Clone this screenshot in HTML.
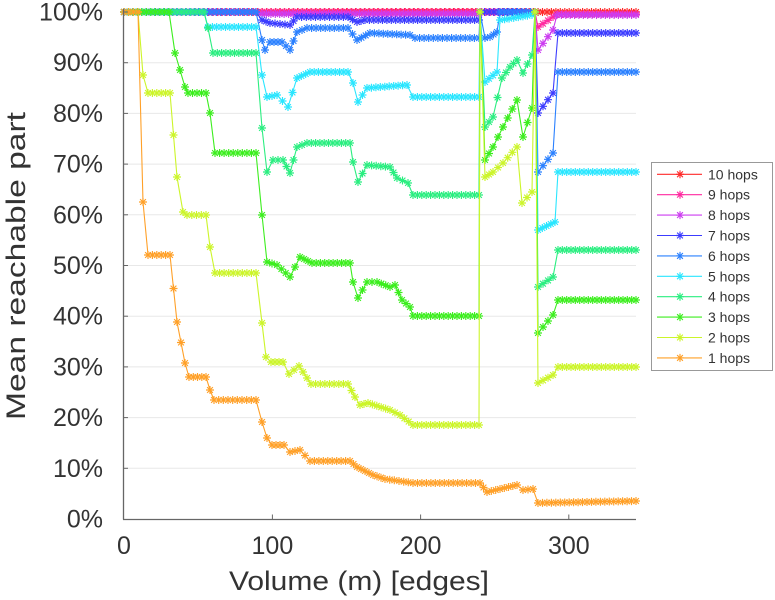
<!DOCTYPE html>
<html><head><meta charset="utf-8">
<style>
html,body{margin:0;padding:0;background:#fff;}
svg{display:block;}
text{font-family:"Liberation Sans",Arial,sans-serif;fill:#333;}
</style></head>
<body>
<svg id="c" width="775" height="600" viewBox="0 0 775 600" xmlns="http://www.w3.org/2000/svg">
<rect x="0" y="0" width="775" height="600" fill="#fff"/>
<g id="grid" stroke="#e8e8e8" stroke-width="1"></g>
<g id="series" fill="none" stroke-linejoin="round"></g>
<g id="axes" stroke="#666" stroke-width="1.3" fill="none">
<line x1="123.5" y1="9" x2="123.5" y2="519.5"/>
<line x1="123" y1="519.5" x2="636" y2="519.5"/>
</g>
<g id="ticks" stroke="#666" stroke-width="1"></g>
<g id="ylabels" font-size="25" text-anchor="end"></g>
<g font-size="25" text-anchor="middle">
<text x="124" y="554">0</text>
<text x="272.4" y="554">100</text>
<text x="420.6" y="554">200</text>
<text x="568.8" y="554">300</text>
</g>
<text x="359" y="590" font-size="27" text-anchor="middle" textLength="260" lengthAdjust="spacingAndGlyphs">Volume (m) [edges]</text>
<text transform="translate(25,266) rotate(-90)" x="0" y="0" font-size="27" text-anchor="middle" textLength="308" lengthAdjust="spacingAndGlyphs">Mean reachable part</text>
<rect x="651.5" y="162.5" width="121" height="208" fill="#fff" stroke="#999" stroke-width="1"/>
<g id="legend" fill="none"></g>
<g id="legtext" font-size="14"></g>
</svg>
<script>
(function(){
var NS="http://www.w3.org/2000/svg";
function el(tag,attrs,parent,txt){var e=document.createElementNS(NS,tag);for(var k in attrs)e.setAttribute(k,attrs[k]);if(txt!==undefined)e.textContent=txt;parent.appendChild(e);return e;}
var grid=document.getElementById('grid'),ticks=document.getElementById('ticks'),yl=document.getElementById('ylabels');
for(var i=0;i<=10;i++){
  var y=519-50.7*i;
  if(i>0) el('line',{x1:124,y1:y.toFixed(1),x2:636,y2:y.toFixed(1)},grid);
  if(i>0) el('line',{x1:124,y1:y.toFixed(1),x2:128,y2:y.toFixed(1)},ticks);
  el('text',{x:103,y:(y+8.5).toFixed(1)},yl,(i*10)+'%');
}
[272.4,420.6,568.8].forEach(function(x){el('line',{x1:x,y1:519,x2:x,y2:514.5},ticks);});

var colors={10:'#ff2a2a',9:'#ff2aa0',8:'#cc3cf0',7:'#3c3cff',6:'#2a80ff',5:'#2ae6ff',4:'#2aee80',3:'#3cee1e',2:'#ccf52a',1:'#ffa028'};
var S={};
S[10]=[[124,12],[636,12]];
S[9]=[[124,12],[535,12],[538,27],[553,17],[558,14],[636,14]];
S[8]=[[124,12],[256,12],[262,14],[479,14],[480,12],[535,12],[538,50],[553,30],[557,15],[636,15]];
S[7]=[[124,12],[256,12],[262,20],[270,23],[290,25],[297,17],[348,17],[357,22],[365,20],[479,20],[480,12],[535,12],[538,113],[553,93],[558,33],[636,33]];
S[6]=[[124,12],[256,12],[262,40],[265,50],[270,42],[282,42],[290,50],[297,32],[307,28],[348,28],[357,40],[370,33],[410,35],[415,38],[479,38],[480,12],[485,38],[490,37],[497,32],[500,12],[535,12],[538,172],[553,153],[558,72],[636,72]];
S[5]=[[124,12],[204,12],[208,27],[256,27],[262,75],[267,97],[277,95],[288,107],[297,78],[310,72],[348,72],[353,83],[358,102],[367,88],[407,85],[413,97],[479,97],[480,12],[485,82],[497,72],[500,20],[532,15],[535,12],[538,230],[555,222],[558,172],[636,172]];
S[4]=[[124,12],[204,12],[208,28],[213,53],[256,53],[262,128],[267,172],[273,160],[283,160],[290,173],[297,147],[307,143],[350,143],[353,162],[358,182],[367,165],[390,167],[397,178],[408,183],[413,195],[479,195],[480,12],[485,127],[493,117],[502,78],[510,67],[517,60],[523,73],[532,55],[535,12],[538,287],[553,277],[558,250],[636,250]];
S[3]=[[124,12],[169,12],[175,53],[185,87],[188,93],[206,93],[210,113],[215,153],[256,153],[262,215],[267,262],[277,265],[290,277],[300,257],[312,263],[350,263],[353,282],[358,298],[367,282],[377,282],[390,287],[395,285],[402,300],[410,307],[413,316],[479,316],[480,12],[485,160],[493,147],[503,127],[517,100],[523,137],[532,108],[535,12],[538,333],[553,315],[558,300],[636,300]];
S[2]=[[124,12],[138,12],[143,75],[148,93],[170,93],[177,177],[183,212],[187,215],[206,215],[210,247],[215,273],[256,273],[262,323],[266,357],[271,362],[283,362],[289,374],[299,366],[311,384],[348,384],[355,397],[360,405],[368,403],[390,410],[400,415],[413,425],[479,425],[480,12],[485,177],[493,172],[503,163],[517,147],[522,203],[532,192],[535,12],[538,383],[553,375],[558,367],[636,367]];
S[1]=[[124,12],[138,12],[143,202],[148,255],[170,255],[177,322],[185,363],[189,377],[206,377],[210,390],[214,400],[256,400],[262,422],[267,438],[272,445],[284,445],[290,452],[300,450],[310,461],[350,461],[357,467],[373,475],[385,479],[413,483],[480,483],[487,492],[500,489],[517,485],[523,490],[533,489],[538,503],[636,501]];

function star(x,y,r){
  var d=r*0.72;
  return 'M'+(x-r).toFixed(1)+' '+y.toFixed(1)+'h'+(2*r).toFixed(1)+
    'M'+x.toFixed(1)+' '+(y-r).toFixed(1)+'v'+(2*r).toFixed(1)+
    'M'+(x-d).toFixed(1)+' '+(y-d).toFixed(1)+'l'+(2*d).toFixed(1)+' '+(2*d).toFixed(1)+
    'M'+(x-d).toFixed(1)+' '+(y+d).toFixed(1)+'l'+(2*d).toFixed(1)+' '+(-2*d).toFixed(1);
}
var R=4.0;
var sg=document.getElementById('series');
for(var h=10;h>=1;h--){
  var p=S[h],c=colors[h];
  var ld='M'+p.map(function(q){return q[0]+' '+q[1];}).join('L');
  el('path',{d:ld,stroke:c,'stroke-width':1.1},sg);
  var md='';
  for(var j=0;j<p.length;j++){
    md+=star(p[j][0],p[j][1],R);
    if(j<p.length-1){
      var dx=p[j+1][0]-p[j][0];
      if(dx>6){
        var n=Math.round(dx/4.45);
        for(var m=1;m<n;m++){
          var t=m/n;
          md+=star(p[j][0]+dx*t,p[j][1]+(p[j+1][1]-p[j][1])*t,R);
        }
      }
    }
  }
  el('path',{d:md,stroke:c,'stroke-width':1.15},sg);
}
var lg=document.getElementById('legend'),lt=document.getElementById('legtext');
for(var i=0;i<10;i++){
  var hh=10-i,y=174.3+i*20.4,c=colors[hh];
  el('line',{x1:657,y1:y,x2:702,y2:y,stroke:c,'stroke-width':1.1},lg);
  el('path',{d:star(680,y,R),stroke:c,'stroke-width':1.15},lg);
  el('text',{x:708,y:(y+5).toFixed(1)},lt,hh+' hops');
}
})();
</script>
</body></html>
